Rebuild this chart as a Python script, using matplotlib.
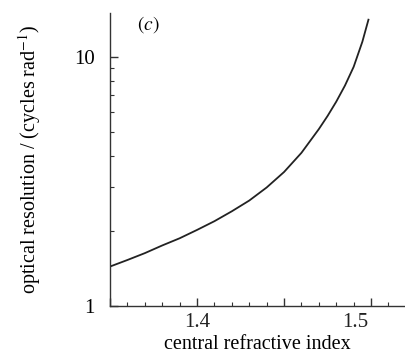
import numpy as np
from matplotlib import pyplot as plt
from matplotlib.ticker import FixedLocator, MultipleLocator, NullFormatter

# central refractive index vs optical resolution
n_index = [1.350, 1.360, 1.370, 1.380, 1.390, 1.400, 1.410, 1.420, 1.430,
           1.440, 1.450, 1.460, 1.470, 1.475, 1.480, 1.485, 1.490, 1.495, 1.4985]
resolution = [1.44, 1.53, 1.63, 1.75, 1.87, 2.02, 2.19, 2.40, 2.65,
              2.99, 3.45, 4.12, 5.13, 5.79, 6.61, 7.67, 9.12, 11.5, 14.1]

xticks = [1.35, 1.40, 1.45, 1.50]
xticklabels = ['', '1.4', '', '']
yticks = [1, 10]
yticklabels = ['1', '10']

plt.rcParams['font.family'] = ['Liberation Serif', 'DejaVu Serif']
plt.rcParams['mathtext.fontset'] = 'stix'

fig = plt.figure(figsize=(4.05, 3.53), dpi=100)
ax = fig.add_axes([0.2716, 0.1331, 0.7284, 0.8301])

ax.plot(n_index, resolution, color='#222222', lw=1.3)

ax.set_yscale('log')
ax.set_xlim(1.35, 1.5195)
ax.set_ylim(1, 15)

ax.xaxis.set_major_locator(FixedLocator(xticks))
ax.set_xticklabels(xticklabels)
ax.xaxis.set_minor_locator(MultipleLocator(0.01))
ax.yaxis.set_major_locator(FixedLocator(yticks))
ax.set_yticklabels(yticklabels)
ax.yaxis.set_minor_formatter(NullFormatter())

# the printed "1.5" sits a little left of its tick in the original
ax.annotate('1.5', xy=(1.5, 0), xycoords=ax.get_xaxis_transform(),
            xytext=(-11.5, -5), textcoords='offset points',
            ha='center', va='top', fontsize=15, color='#222222')

for s in ['top', 'right']:
    ax.spines[s].set_visible(False)
for s in ['left', 'bottom']:
    ax.spines[s].set_linewidth(1.0)
    ax.spines[s].set_color('#333333')

ax.tick_params(which='major', direction='in', length=6, width=1.0, labelsize=15, color='#333333')
ax.tick_params(which='minor', direction='in', length=3, width=0.8, color='#333333')
ax.tick_params(axis='y', pad=11)
ax.tick_params(axis='x', pad=5, labelcolor='#222222')

ax.set_xlabel('central refractive index', fontsize=14.5, labelpad=2)
ax.set_ylabel('optical resolution / (cycles rad$^{-1}$)', fontsize=14.5, labelpad=22)

ax.text(0.092, 0.959, r'$(c)$', transform=ax.transAxes, fontsize=14, va='center', ha='left')

fig.savefig('out.png', dpi=100)
